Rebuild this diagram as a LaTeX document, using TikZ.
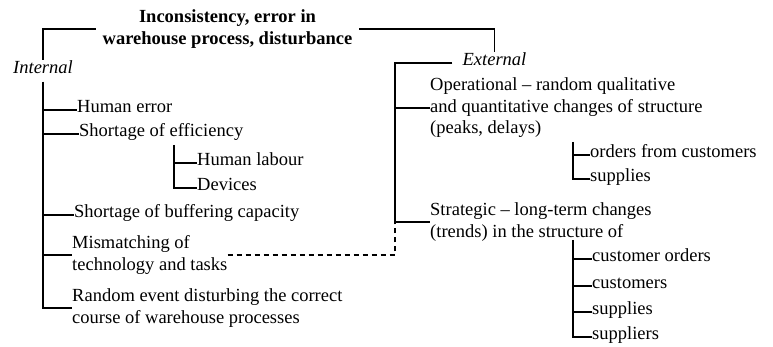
\documentclass[tikz,border=0pt]{standalone}
\usepackage{fontspec}
\setmainfont{Liberation Serif}
\usetikzlibrary{positioning}

\tikzset{
	lbl/.style={inner sep=0pt, anchor=west, align=left, font=\fontsize{18.5}{21.5}\selectfont},
	one/.style={lbl, text height=0.68em, text depth=0.22em},
	branch/.style={line width=1.5pt},
	link/.style={line width=1.5pt, dash pattern=on 5pt off 4pt},
}

\begin{document}
\begin{tikzpicture}[x=1pt, y=-1pt]
	%%%%% START %%%%%
	\useasboundingbox (0,0) rectangle (773,347);
	
	\node[lbl, anchor=center, align=center, inner xsep=7pt, font=\fontsize{18.5}{22}\selectfont\bfseries] (title) at (227.5,29) {Inconsistency, error in\\warehouse process, disturbance};
	
	\node[one, anchor=center, inner ysep=6pt, font=\fontsize{18.5}{21.5}\selectfont\itshape] (int) at (43,71) {Internal};
	\node[one, anchor=center, inner xsep=10pt, inner ysep=6pt, font=\fontsize{18.5}{21.5}\selectfont\itshape] (ext) at (494.5,63) {External};
	
	% internal side
	\node[one] (herr) at (77,110) {Human error};
	\node[one] (seff) at (79,134) {Shortage of efficiency};
	\node[one] (hlab) at (197,163) {Human labour};
	\node[one] (dev) at (197,188) {Devices};
	\node[one] (sbuf) at (74,215) {Shortage of buffering capacity};
	\node[lbl] (mism) at (72,255) {Mismatching of\\technology and tasks};
	\node[lbl] (rand) at (72,308) {Random event disturbing the correct\\course of warehouse processes};
	
	% external side
	\node[lbl] (oper) at (430,108) {Operational -- random qualitative\\and quantitative changes of structure\\(peaks, delays)};
	\node[one] (ofc) at (590,155) {orders from customers};
	\node[one] (sup1) at (590,179) {supplies};
	\node[lbl] (strat) at (430,222) {Strategic -- long-term changes\\(trends) in the structure of};
	\node[one] (co) at (592,259) {customer orders};
	\node[one] (cus) at (592,286) {customers};
	\node[one] (sup2) at (592,312) {supplies};
	\node[one] (slr) at (592,337) {suppliers};
	
	\coordinate (effsp) at (174,145);
	\coordinate (opsp) at (573,142);
	\coordinate (stsp) at (573,240);
	\coordinate (rbot) at (395,222);
	
	% brackets from the title
	\draw[branch] (title.west) -| (int.north);
	\draw[branch] (title.east) -| (ext.north);
	
	% left tree
	\draw[branch] (int.south) |- (rand.west);
	\draw[branch] (int.south |- herr.west) -- (herr.west);
	\draw[branch] (int.south |- seff.west) -- (seff.west);
	\draw[branch] (int.south |- sbuf.west) -- (sbuf.west);
	\draw[branch] (int.south |- mism.west) -- (mism.west);
	\draw[branch] (effsp) |- (dev.west);
	\draw[branch] (effsp |- hlab.west) -- (hlab.west);
	
	% right tree
	\draw[branch] (ext.west) -| (rbot) -- (strat.west);
	\draw[branch] (rbot |- oper.west) -- (oper.west);
	\draw[branch] (opsp) |- (sup1.west);
	\draw[branch] (opsp |- ofc.west) -- (ofc.west);
	\draw[branch] (stsp) |- (slr.west);
	\draw[branch] (stsp |- co.west) -- (co.west);
	\draw[branch] (stsp |- cus.west) -- (cus.west);
	\draw[branch] (stsp |- sup2.west) -- (sup2.west);
	
	\draw[link] (mism.east) -| (rbot);
	%%%%% END %%%%%
\end{tikzpicture}
\end{document}
